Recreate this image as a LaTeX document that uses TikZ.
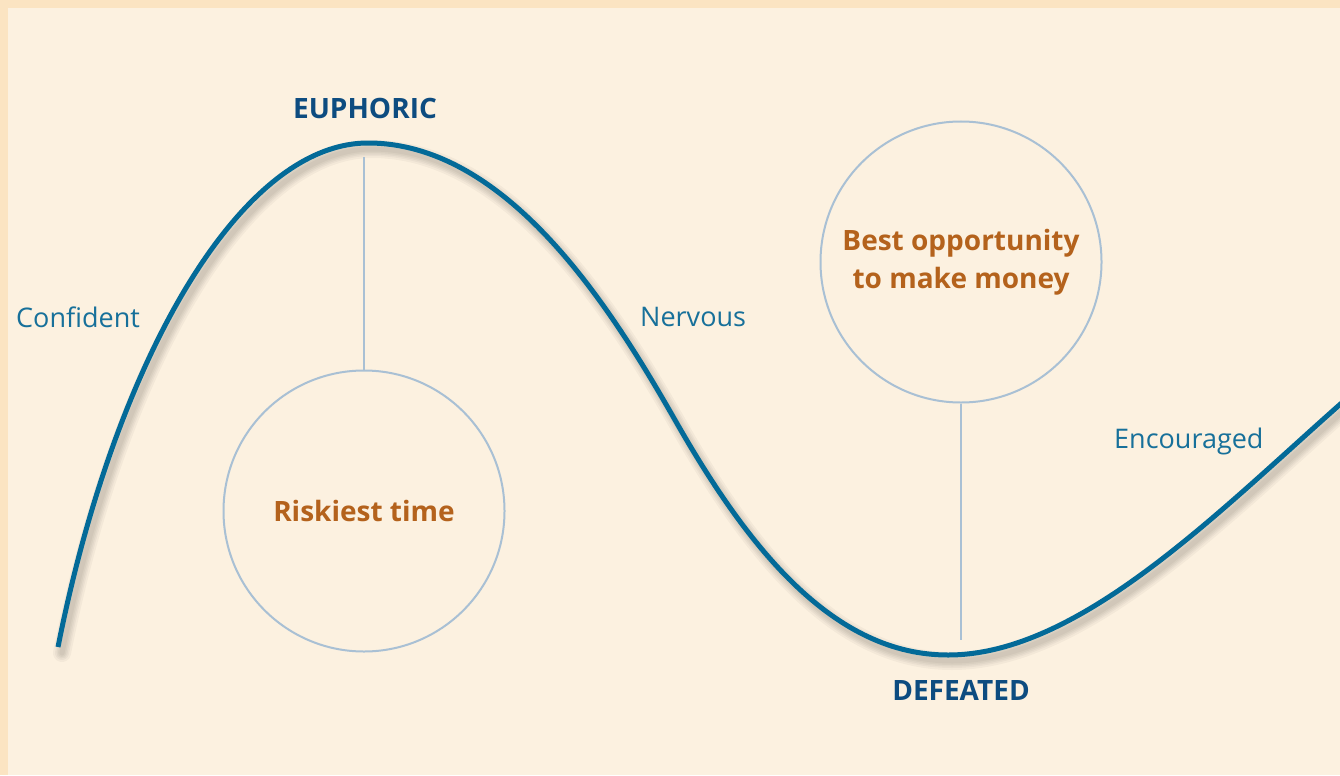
\documentclass[tikz,border=0pt]{standalone}
\usepackage{fontspec}
\setmainfont{Open Sans}
\definecolor{frame}{HTML}{FBE4C2}
\definecolor{paper}{HTML}{FCF1E0}
\definecolor{curveblue}{HTML}{036A98}
\definecolor{labelblue}{HTML}{17709A}
\definecolor{headblue}{HTML}{0D4C80}
\definecolor{accent}{HTML}{B4621C}
\definecolor{ring}{HTML}{A9C0D4}
\tikzset{
  mood/.style={font=\fontsize{27bp}{32bp}\selectfont, text=labelblue, inner sep=0pt},
  phase/.style={font=\fontsize{28bp}{34bp}\selectfont\bfseries, text=headblue, inner sep=0pt},
  bubble/.style={circle, draw=ring, line width=2bp, minimum size=281bp, inner sep=0pt,
    font=\fontsize{28bp}{38bp}\selectfont\bfseries, text=accent, align=center},
  stem/.style={draw=ring, line width=2bp},
  cycle/.style={draw=curveblue, line width=5bp},
}
\begin{document}
\begin{tikzpicture}[x=1bp, y=-1bp]
  % page and border band
  \fill[frame] (0,0) rectangle (1340,775);
  \fill[paper] (8,8) rectangle (1340,775);
  \useasboundingbox (0,0) rectangle (1340,775);

  % the emotional cycle curve
  \def\cyclepath{(58,647) .. controls (115,360) and (240,143) .. (368,143)
    .. controls (510,143) and (615,315) .. (675,420)
    .. controls (750,552) and (835,655) .. (948,655)
    .. controls (1080,655) and (1220,510) .. (1345,400)}
  % soft drop shadow
  \begin{scope}[shift={(4,6)}]
    \foreach \w in {18,14,11,8,5}{
      \draw[black, opacity=0.035, line width=\w bp, line cap=round] \cyclepath;
    }
  \end{scope}
  \begin{scope}
    \clip (0,0) rectangle (1340,775);
    \draw[cycle] \cyclepath;
  \end{scope}

  % markers on the curve
  \coordinate (peak) at (364,157);
  \coordinate (trough) at (961,640);

  % circles and their stems
  \node[bubble] (risk) at (364,511) {Riskiest time};
  \node[bubble] (best) at (961,262) {Best opportunity\\to make money};
  \draw[stem] (peak) -- (risk.north);
  \draw[stem] (best.south) -- (trough);

  % labels
  \node[phase] (euphoric) at (365,108) {EUPHORIC};
  \node[phase] (defeated) at (961,690) {DEFEATED};
  \node[mood, anchor=west] (confident) at (16,317) {Confident};
  \node[mood, anchor=west] (nervous) at (640,317) {Nervous};
  \node[mood, anchor=west] (encouraged) at (1114,441) {Encouraged};
\end{tikzpicture}
\end{document}
